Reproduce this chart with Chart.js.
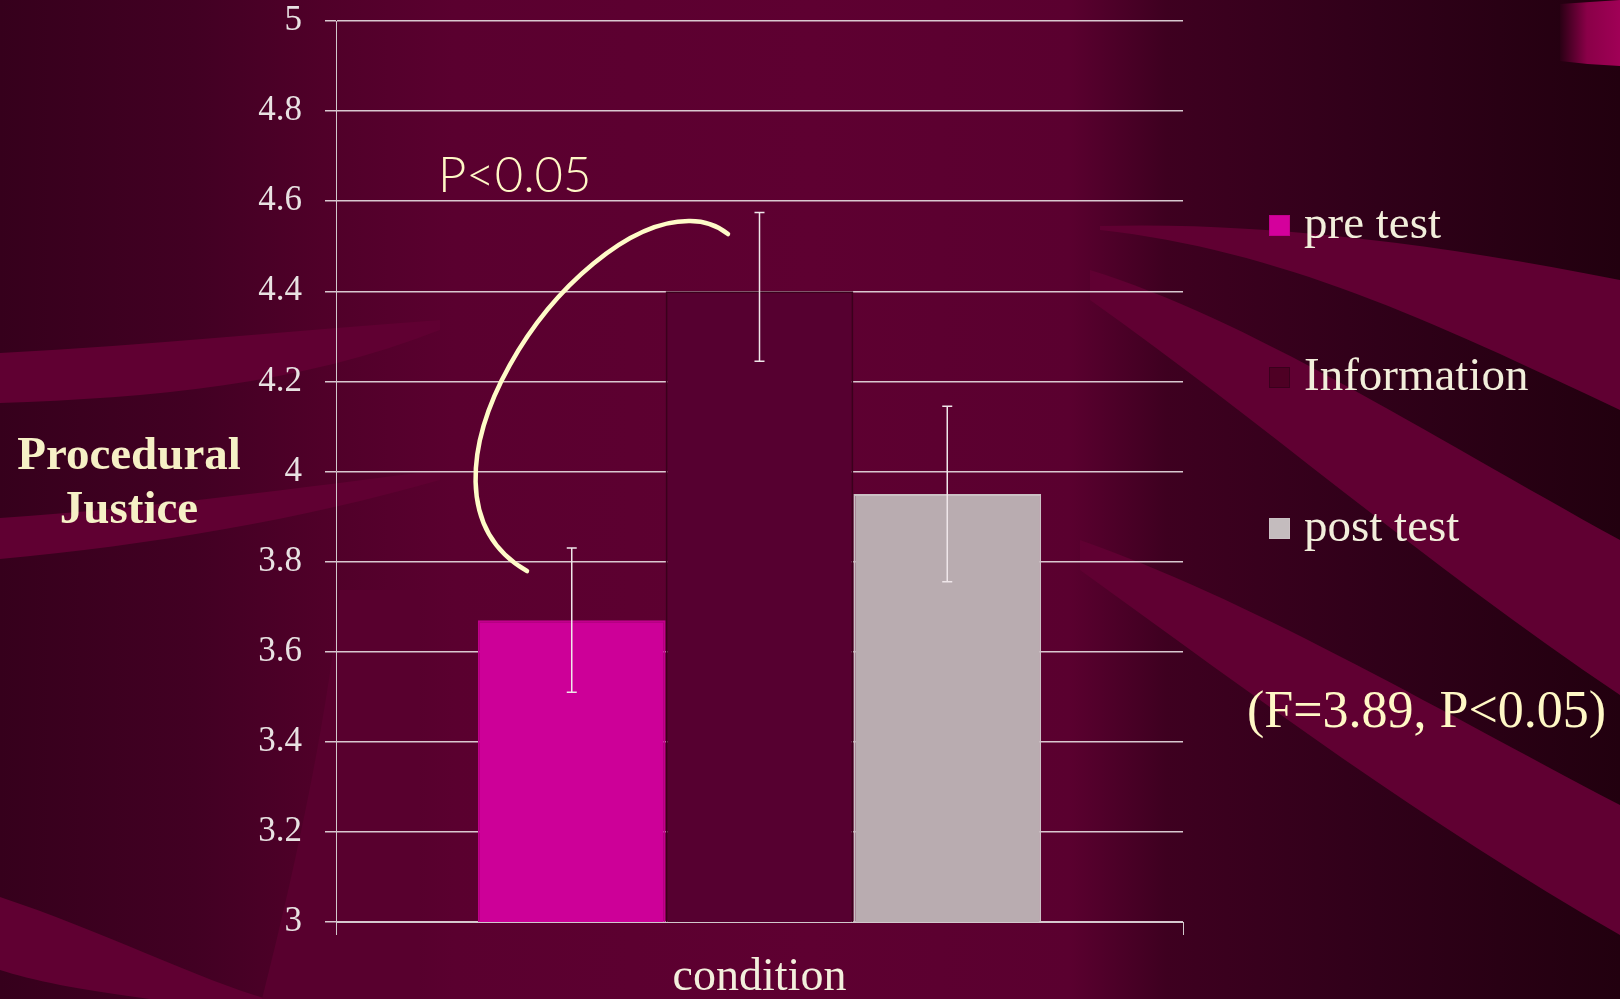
<!DOCTYPE html>
<html>
<head>
<meta charset="utf-8">
<script src="https://cdn.jsdelivr.net/npm/chart.js@4/dist/chart.umd.min.js"></script>
<style>
html, body { margin: 0; padding: 0; background: #4a0026; }
#wrap { width: 1620px; height: 999px; position: relative; }
</style>
</head>
<body>
<div id="wrap"><canvas id="chart" width="1620" height="999"></canvas></div>
<script>
// Dados do gráfico
const categories = ['condition'];
const seriesNames = ['pre test', 'Information', 'post test'];
const means = [3.67, 4.40, 3.95];
const errLow = [3.51, 4.245, 3.755];
const errHigh = [3.83, 4.575, 4.145];
const yTicks = [3, 3.2, 3.4, 3.6, 3.8, 4, 4.2, 4.4, 4.6, 4.8, 5];
const yTitle = ['Procedural', 'Justice'];
const sigLabel = 'P<0.05';
const statsLabel = '(F=3.89, P<0.05)';

const fillColors = ['#cd0098', '#560030', '#b9acb0'];
const edgeColors = ['#c2008c', '#3a001c', '#cbc1c4'];
const legendColors = ['#d4009c', '#4e0024', '#c4bcbe'];

const serif = "'Liberation Serif', 'Times New Roman', serif";
const cream = '#fff8c6';

// Fundo com as faixas decorativas
const backgroundPlugin = {
    id: 'slideBackground',
    beforeDraw(chart) {
        const ctx = chart.ctx;
        const w = chart.width, h = chart.height;
        ctx.save();
        const g = ctx.createLinearGradient(0, 0, w, 0);
        g.addColorStop(0, '#36001c');
        g.addColorStop(0.12, '#420023');
        g.addColorStop(0.2, '#500029');
        g.addColorStop(0.28, '#5a002f');
        g.addColorStop(0.5, '#5e0031');
        g.addColorStop(0.66, '#5a002f');
        g.addColorStop(0.72, '#3e0020');
        g.addColorStop(0.85, '#300019');
        g.addColorStop(1, '#22000f');
        ctx.fillStyle = g;
        ctx.fillRect(0, 0, w, h);

        const band = (top, bottom) => {
            ctx.beginPath();
            ctx.moveTo(top[0][0], top[0][1]);
            ctx.bezierCurveTo(top[1][0], top[1][1], top[2][0], top[2][1], top[3][0], top[3][1]);
            ctx.lineTo(bottom[0][0], bottom[0][1]);
            ctx.bezierCurveTo(bottom[1][0], bottom[1][1], bottom[2][0], bottom[2][1], bottom[3][0], bottom[3][1]);
            ctx.closePath();
            ctx.fill();
        };
        ctx.fillStyle = '#600032';
        // faixas da direita
        band([[1100, 226], [1250, 222], [1420, 240], [1620, 280]], [[1620, 410], [1430, 320], [1280, 250], [1100, 230]]);
        band([[1090, 270], [1250, 320], [1420, 430], [1620, 540]], [[1620, 695], [1420, 560], [1260, 420], [1090, 300]]);
        band([[1080, 540], [1250, 600], [1420, 700], [1620, 805]], [[1620, 935], [1420, 820], [1260, 700], [1080, 570]]);
        // faixas da esquerda
        band([[0, 353], [150, 345], [300, 330], [440, 320]], [[440, 330], [300, 385], [150, 398], [0, 403]]);
        band([[0, 518], [150, 508], [300, 488], [440, 470]], [[440, 480], [300, 520], [150, 545], [0, 559]]);
        band([[0, 897], [100, 930], [200, 980], [267, 999]], [[150, 999], [80, 990], [30, 980], [0, 970]]);
        // área clara à esquerda do gráfico
        ctx.fillStyle = '#58002e';
        band([[340, 590], [330, 700], [300, 850], [262, 999]], [[420, 999], [420, 850], [420, 700], [420, 590]]);

        // detalhe rosa no canto superior direito
        const tab = ctx.createLinearGradient(1560, 0, 1620, 0);
        tab.addColorStop(0, '#2a0014');
        tab.addColorStop(0.45, '#8a0048');
        tab.addColorStop(1, '#a00056');
        ctx.fillStyle = tab;
        ctx.beginPath();
        ctx.moveTo(1560, 4);
        ctx.quadraticCurveTo(1590, 2, 1620, 0);
        ctx.lineTo(1620, 66);
        ctx.quadraticCurveTo(1590, 65, 1560, 61);
        ctx.closePath();
        ctx.fill();
        ctx.restore();
    }
};

// Barras de erro
const errorBarPlugin = {
    id: 'errorBars',
    afterDatasetsDraw(chart) {
        const ctx = chart.ctx;
        const y = chart.scales.y;
        ctx.save();
        ctx.strokeStyle = '#efe6e9';
        ctx.lineWidth = 1.5;
        chart.data.datasets.forEach((ds, i) => {
            const bar = chart.getDatasetMeta(i).data[0];
            if (!bar) return;
            const yTop = y.getPixelForValue(errHigh[i]);
            const yBot = y.getPixelForValue(errLow[i]);
            ctx.beginPath();
            ctx.moveTo(bar.x, yTop); ctx.lineTo(bar.x, yBot);
            ctx.moveTo(bar.x - 5, yTop); ctx.lineTo(bar.x + 5, yTop);
            ctx.moveTo(bar.x - 5, yBot); ctx.lineTo(bar.x + 5, yBot);
            ctx.stroke();
        });
        ctx.restore();
    }
};

// Textos, anotação e legenda
const annotationPlugin = {
    id: 'slideText',
    afterDraw(chart) {
        const ctx = chart.ctx;
        const area = chart.chartArea;
        const y = chart.scales.y;
        const px = f => area.left + f * (area.right - area.left);
        ctx.save();

        // título do eixo Y
        ctx.fillStyle = '#f6f0c6';
        ctx.font = 'bold 47px ' + serif;
        ctx.textAlign = 'center';
        ctx.textBaseline = 'middle';
        ctx.fillText(yTitle[0], 129, 457);
        ctx.fillText(yTitle[1], 129, 511);

        // arco da significância
        ctx.strokeStyle = '#fffbc8';
        ctx.lineWidth = 4.5;
        ctx.lineCap = 'round';
        ctx.beginPath();
        ctx.moveTo(px(0.2255), y.getPixelForValue(3.779));
        ctx.bezierCurveTo(px(0.058), y.getPixelForValue(3.96),
            px(0.275), y.getPixelForValue(4.56),
            px(0.418), y.getPixelForValue(4.556));
        ctx.quadraticCurveTo(px(0.444), y.getPixelForValue(4.556), px(0.4628), y.getPixelForValue(4.527));
        ctx.stroke();

        ctx.fillStyle = cream;
        ctx.font = "300 49px Lato, 'Open Sans', sans-serif";
        ctx.textAlign = 'left';
        ctx.fillText(sigLabel, px(0.1204), y.getPixelForValue(4.656));

        // legenda
        const legendY = [226, 378, 529];
        ctx.font = '47px ' + serif;
        seriesNames.forEach((name, i) => {
            ctx.fillStyle = legendColors[i];
            ctx.fillRect(1269, legendY[i] - 11, 21, 21);
            ctx.strokeStyle = edgeColors[i];
            ctx.lineWidth = 1;
            ctx.strokeRect(1269.5, legendY[i] - 10.5, 20, 20);
            ctx.fillStyle = '#f2eedb';
            ctx.fillText(name, 1304, legendY[i]);
        });

        ctx.fillStyle = cream;
        ctx.font = '52px ' + serif;
        ctx.fillText(statsLabel, 1247, 713);
        ctx.restore();
    }
};

new Chart(document.getElementById('chart'), {
    type: 'bar',
    data: {
        labels: categories,
        datasets: seriesNames.map((name, i) => ({
            label: name,
            data: [means[i]],
            backgroundColor: fillColors[i],
            borderColor: edgeColors[i],
            borderWidth: 2,
            categoryPercentage: 0.665,
            barPercentage: 1.0
        }))
    },
    options: {
        responsive: false,
        animation: false,
        devicePixelRatio: 1,
        layout: { padding: { left: 0, right: 437, top: 21, bottom: 0 } },
        plugins: {
            legend: { display: false },
            tooltip: { enabled: false }
        },
        scales: {
            x: {
                offset: true,
                grid: { offset: true, drawOnChartArea: false, drawTicks: true, tickLength: 13, color: '#d2c8cc', lineWidth: 1 },
                border: { display: true, color: '#d2c8cc', width: 1 },
                ticks: { color: '#f3efdc', padding: 15, font: { family: serif, size: 46 } },
                afterFit: s => { s.height = 77; }
            },
            y: {
                min: 3,
                max: 5,
                afterBuildTicks: s => { s.ticks = yTicks.map(v => ({ value: v })); },
                grid: { color: 'rgba(232, 222, 226, 0.9)', lineWidth: 1.5, tickLength: 11 },
                border: { display: true, color: '#d2c8cc', width: 1 },
                ticks: { color: '#e8e2e2', padding: 23, font: { family: serif, size: 35 }, callback: v => String(v) },
                afterFit: s => { s.width = 336; s.paddingTop = 0; s.paddingBottom = 0; }
            }
        }
    },
    plugins: [backgroundPlugin, errorBarPlugin, annotationPlugin]
});
</script>
</body>
</html>
